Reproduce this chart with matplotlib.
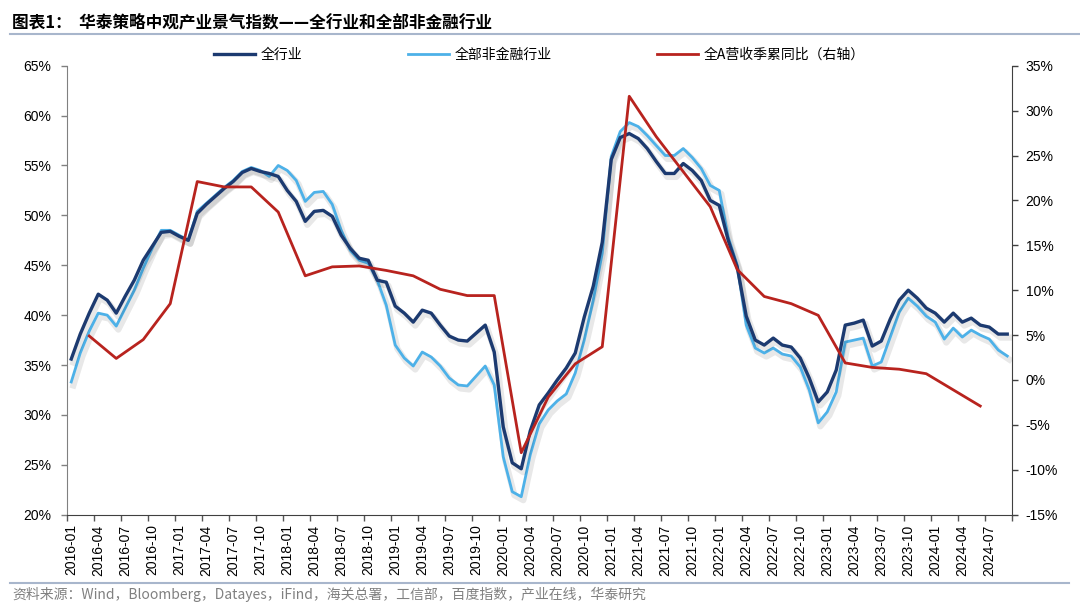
# plot.py
# Huatai mid-level industry prosperity index vs. A-share cumulative revenue YoY.

import numpy as np
import pandas as pd
import matplotlib
matplotlib.use('Agg')
import matplotlib.pyplot as plt
import matplotlib.patheffects as pe
from matplotlib.lines import Line2D

plt.rcParams['font.family'] = ['Liberation Sans', 'Noto Sans CJK SC', 'DejaVu Sans']
CJK = ['Noto Sans CJK SC', 'DejaVu Sans']

# Monthly categories 2016-01 .. 2024-09
months = pd.period_range('2016-01', '2024-09', freq='M').strftime('%Y-%m').tolist()

# 全行业 (left axis, %)
all_industry = [
    35.6, 38.1, 40.2, 42.1, 41.5, 40.2, 41.9, 43.5, 45.5, 46.9, 48.3, 48.4,
    47.9, 47.5, 50.2, 51.1, 51.9, 52.7, 53.4, 54.3, 54.7, 54.4, 54.2, 53.9,
    52.5, 51.4, 49.4, 50.4, 50.5, 49.9, 48.0, 46.7, 45.7, 45.5, 43.5, 43.3,
    40.9, 40.2, 39.3, 40.5, 40.2, 39.0, 37.9, 37.5, 37.4, 38.2, 39.0, 36.3,
    28.8, 25.2, 24.6, 28.4, 31.0, 32.2, 33.5, 34.7, 36.2, 39.8, 42.9, 47.3,
    55.6, 57.8, 58.2, 57.7, 56.7, 55.4, 54.2, 54.2, 55.2, 54.5, 53.5, 51.5,
    51.0, 47.5, 44.8, 39.9, 37.5, 37.0, 37.7, 37.0, 36.8, 35.7, 33.7, 31.3,
    32.3, 34.5, 39.0, 39.2, 39.5, 36.9, 37.4, 39.6, 41.5, 42.5, 41.7, 40.7,
    40.2, 39.3, 40.2, 39.3, 39.7, 39.0, 38.8, 38.1, 38.1,
]

# 全部非金融行业 (left axis, %)
non_financial = [
    33.3, 36.2, 38.4, 40.2, 40.0, 38.9, 40.7, 42.5, 44.7, 46.7, 48.5, 48.5,
    48.0, 47.5, 50.4, 51.2, 52.0, 52.8, 53.5, 54.4, 54.8, 54.5, 53.9, 55.0,
    54.5, 53.5, 51.4, 52.3, 52.4, 51.1, 48.5, 46.5, 45.5, 45.2, 43.5, 41.0,
    37.0, 35.7, 34.9, 36.3, 35.8, 34.9, 33.7, 33.0, 32.9, 33.9, 34.9, 33.0,
    25.8, 22.3, 21.8, 26.0, 29.1, 30.5, 31.4, 32.1, 34.2, 37.5, 41.5, 46.2,
    55.9, 58.4, 59.3, 58.9, 58.0, 57.0, 56.0, 56.0, 56.7, 55.8, 54.7, 53.0,
    52.5, 47.8, 45.0, 39.0, 36.7, 36.2, 36.7, 36.1, 35.9, 34.8, 32.5, 29.2,
    30.3, 32.3, 37.3, 37.5, 37.7, 34.9, 35.3, 37.8, 40.3, 41.7, 40.9, 39.9,
    39.3, 37.6, 38.7, 37.8, 38.5, 38.0, 37.6, 36.5, 35.9,
]

# 全A营收季累同比 (right axis, %), quarterly
revenue_quarters = [
    '2016-03', '2016-06', '2016-09', '2016-12', '2017-03', '2017-06', '2017-09', '2017-12',
    '2018-03', '2018-06', '2018-09', '2018-12', '2019-03', '2019-06', '2019-09', '2019-12',
    '2020-03', '2020-06', '2020-09', '2020-12', '2021-03', '2021-06', '2021-09', '2021-12',
    '2022-03', '2022-06', '2022-09', '2022-12', '2023-03', '2023-06', '2023-09', '2023-12',
    '2024-03', '2024-06',
]
revenue_yoy = [
    4.9, 2.4, 4.5, 8.5, 22.1, 21.5, 21.5, 18.7,
    11.6, 12.6, 12.7, 12.2, 11.6, 10.1, 9.4, 9.4,
    -8.1, -1.9, 1.8, 3.7, 31.6, 27.1, 23.2, 19.3,
    12.3, 9.3, 8.5, 7.2, 1.9, 1.4, 1.2, 0.7,
    -1.1, -2.9,
]

x = np.arange(len(months))
rev_x = [months.index(m) for m in revenue_quarters]

c_all, c_nf, c_rev = '#1C3A70', '#4DB1E8', '#B8231E'

fig = plt.figure(figsize=(10.8, 6.13), dpi=100)
ax1 = fig.add_axes([0.0618, 0.1604, 0.875, 0.7324])
ax2 = ax1.twinx()

# soft drop shadow like the original export
shadow = [pe.SimpleLineShadow(offset=(1.5, -2.5), shadow_color='k', alpha=0.09, linewidth=4.5),
          pe.Normal()]

ax1.plot(x, non_financial, color=c_nf, lw=2.0, path_effects=shadow)
ax1.plot(x, all_industry, color=c_all, lw=2.4, path_effects=shadow)
ax2.plot(rev_x, revenue_yoy, color=c_rev, lw=2.0)

# Axes ranges and ticks
ax1.set_xlim(-0.5, len(months) - 0.5)
ax1.set_ylim(20, 65)
ax1.set_yticks(range(20, 66, 5))
ax1.set_yticklabels([f'{v}%' for v in range(20, 66, 5)])
ax2.set_ylim(-15, 35)
ax2.set_yticks(range(-15, 36, 5))
ax2.set_yticklabels([f'{v}%' for v in range(-15, 36, 5)])

ax1.set_xticks(x[::3])
ax1.set_xticklabels(months[::3], rotation=90)
ax1.set_xticks(np.arange(-0.5, len(months), 3), minor=True)
ax1.tick_params(axis='x', which='major', length=0, pad=7, labelsize=10)
ax1.tick_params(axis='x', which='minor', length=4, color='#555555', width=1)
ax1.tick_params(axis='y', length=4, color='#808080', width=1, pad=7, labelsize=10)
ax2.tick_params(axis='y', length=4, color='#404040', width=1, pad=6, labelsize=10)

for ax in (ax1, ax2):
    ax.spines['top'].set_visible(False)
ax1.spines['right'].set_visible(False)
ax2.spines['left'].set_visible(False)
ax2.spines['bottom'].set_visible(False)
ax1.spines['left'].set_color('#808080')
ax1.spines['bottom'].set_color('#404040')
ax2.spines['right'].set_color('#404040')

handles = [Line2D([], [], color=c_all, lw=2.4),
           Line2D([], [], color=c_nf, lw=2.0),
           Line2D([], [], color=c_rev, lw=2.0)]
labels = ['全行业', '全部非金融行业', '全A营收季累同比（右轴）']
ax2.legend(handles, labels, loc='center', bbox_to_anchor=(0.5, 1.024), ncol=3, frameon=False,
           handlelength=2.95, handletextpad=0.4, columnspacing=7.6,
           prop={'family': CJK, 'size': 10})

# Title, separators and source note
fig.text(0.011, 1 - 22 / 613, '图表1：  华泰策略中观产业景气指数——全行业和全部非金融行业',
         fontsize=12, fontweight='bold', family=CJK, va='center')
fig.add_artist(Line2D([0.009, 1.0], [1 - 34 / 613] * 2, color='#A8B6CC', lw=1.5))
fig.add_artist(Line2D([0.009, 0.99], [1 - 583 / 613] * 2, color='#A8B6CC', lw=1.5))
fig.text(0.011, 1 - 594 / 613,
         '资料来源：Wind，Bloomberg，Datayes，iFind，海关总署，工信部，百度指数，产业在线，华泰研究',
         fontsize=10, color='#808080', family=CJK, va='center')

fig.savefig('out.png', dpi=100)
